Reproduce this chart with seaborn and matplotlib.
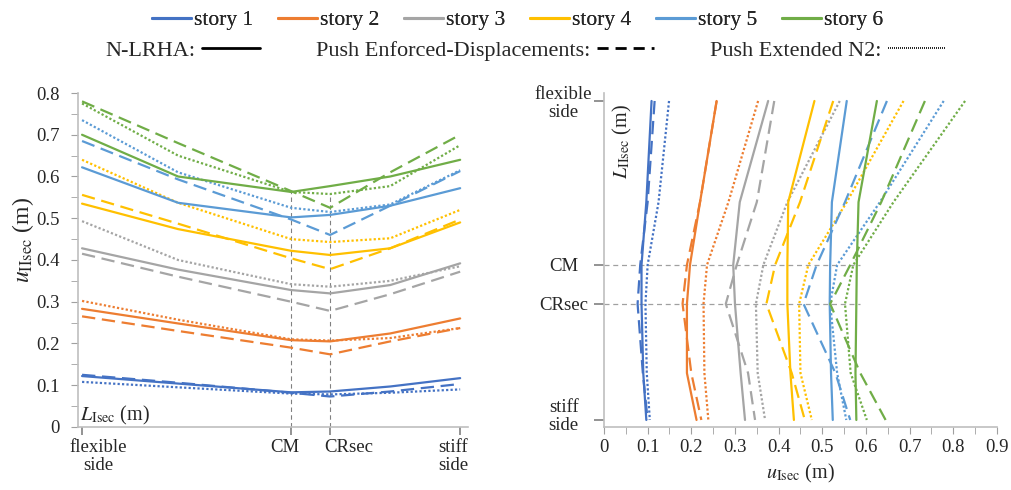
import numpy as np
import pandas as pd
import matplotlib
matplotlib.use("Agg")
import matplotlib.pyplot as plt
import matplotlib.transforms as mtransforms
import seaborn as sns
from matplotlib.lines import Line2D
from matplotlib.ticker import MultipleLocator, FuncFormatter

# ---------------------------------------------------------------- data
stories = ["story 1", "story 2", "story 3", "story 4", "story 5", "story 6"]
methods = ["N-LRHA", "Push Enforced-Displacements", "Push Extended N2"]
colors = ["#4472C4", "#ED7D31", "#A5A5A5", "#FFC000", "#5B9BD5", "#70AD47"]

# normalised positions along each section (0 = flexible side, 1 = stiff side)
pos_I = [0.0, 0.254, 0.553, 0.656, 0.815, 1.0]
pos_II = [0.0, 0.317, 0.514, 0.636, 0.853, 1.0]
tick_pos_I = [0.0, 0.553, 0.656, 1.0]
tick_pos_II = [0.0, 0.514, 0.636, 1.0]
tick_labels = ["flexible\nside", "CM", "CRsec", "stiff\nside"]

# u_IIsec (m) along section I, one row per story
uII_nlrha = [
    [0.122, 0.104, 0.083, 0.085, 0.097, 0.117],
    [0.283, 0.248, 0.208, 0.205, 0.224, 0.260],
    [0.428, 0.377, 0.328, 0.320, 0.340, 0.392],
    [0.535, 0.474, 0.422, 0.412, 0.428, 0.490],
    [0.622, 0.537, 0.502, 0.508, 0.530, 0.572],
    [0.700, 0.600, 0.563, 0.577, 0.600, 0.640],
]
uII_push_ed = [
    [0.125, 0.106, 0.082, 0.073, 0.085, 0.103],
    [0.265, 0.230, 0.190, 0.174, 0.205, 0.237],
    [0.415, 0.360, 0.300, 0.278, 0.318, 0.372],
    [0.556, 0.487, 0.404, 0.378, 0.428, 0.497],
    [0.685, 0.593, 0.497, 0.460, 0.530, 0.613],
    [0.780, 0.680, 0.565, 0.525, 0.610, 0.700],
]
uII_push_n2 = [
    [0.108, 0.095, 0.080, 0.078, 0.082, 0.090],
    [0.302, 0.257, 0.210, 0.207, 0.213, 0.237],
    [0.493, 0.400, 0.342, 0.336, 0.350, 0.385],
    [0.640, 0.537, 0.450, 0.443, 0.452, 0.520],
    [0.735, 0.610, 0.525, 0.515, 0.533, 0.615],
    [0.775, 0.650, 0.563, 0.558, 0.577, 0.675],
]

# u_Isec (m) along section II, one row per story
uI_nlrha = [
    [0.109, 0.097, 0.086, 0.086, 0.090, 0.097],
    [0.258, 0.220, 0.197, 0.190, 0.190, 0.212],
    [0.376, 0.311, 0.296, 0.300, 0.313, 0.323],
    [0.482, 0.422, 0.420, 0.420, 0.427, 0.435],
    [0.556, 0.522, 0.518, 0.517, 0.520, 0.524],
    [0.625, 0.583, 0.579, 0.578, 0.576, 0.578],
]
uI_push_ed = [
    [0.116, 0.100, 0.083, 0.077, 0.089, 0.100],
    [0.258, 0.220, 0.190, 0.180, 0.200, 0.223],
    [0.390, 0.350, 0.304, 0.279, 0.330, 0.346],
    [0.525, 0.449, 0.392, 0.372, 0.430, 0.460],
    [0.648, 0.552, 0.487, 0.457, 0.530, 0.564],
    [0.735, 0.635, 0.564, 0.518, 0.587, 0.645],
]
uI_push_n2 = [
    [0.149, 0.125, 0.100, 0.095, 0.098, 0.105],
    [0.353, 0.285, 0.236, 0.228, 0.230, 0.239],
    [0.540, 0.420, 0.365, 0.348, 0.352, 0.369],
    [0.686, 0.556, 0.468, 0.447, 0.450, 0.476],
    [0.778, 0.632, 0.534, 0.518, 0.534, 0.555],
    [0.827, 0.663, 0.571, 0.552, 0.565, 0.602],
]

# reach of the dashed guide lines at CM and CRsec
guide_I = [0.563, 0.557]
guide_II = [0.586, 0.586]


def long_table(pos, tables):
    rows = []
    for method, table in zip(methods, tables):
        for story, values in zip(stories, table):
            for p, v in zip(pos, values):
                rows.append({"pos": p, "u": v, "story": story, "method": method})
    return pd.DataFrame(rows)


df_I = long_table(pos_I, [uII_nlrha, uII_push_ed, uII_push_n2])
df_II = long_table(pos_II, [uI_nlrha, uI_push_ed, uI_push_n2])

# ---------------------------------------------------------------- style
sns.set_style("ticks")
plt.rcParams["font.family"] = ["Liberation Serif", "DejaVu Serif"]
plt.rcParams["mathtext.fontset"] = "stix"

dash_map = {methods[0]: "", methods[1]: (6, 3), methods[2]: (1, 1)}
palette = dict(zip(stories, colors))
axis_col = "#BFBFBF"
tick_col = "#A0A0A0"
fs = 13.5

fig = plt.figure(figsize=(10.11, 4.90), dpi=100)
ax1 = fig.add_axes([0.0772, 0.1286, 0.3858, 0.6816])
ax2 = fig.add_axes([0.5974, 0.1286, 0.3887, 0.6816])

sns.lineplot(data=df_I, x="pos", y="u", hue="story", style="method",
             palette=palette, dashes=dash_map, estimator=None, sort=False,
             linewidth=1.6, legend=False, ax=ax1)
sns.lineplot(data=df_II, x="u", y="pos", hue="story", style="method",
             palette=palette, dashes=dash_map, estimator=None, sort=False,
             orient="y", linewidth=1.6, legend=False, ax=ax2)

# guide lines at CM and CRsec
for p, top in zip(tick_pos_I[1:3], guide_I):
    ax1.plot([p, p], [0, top], color="#808080", lw=0.8, ls=(0, (4, 3)), zorder=0)
for p, right in zip(tick_pos_II[1:3], guide_II):
    ax2.plot([0, right], [p, p], color="#A0A0A0", lw=0.9, ls=(0, (4, 3)), zorder=0)

fmt = FuncFormatter(lambda v, _: "0" if abs(v) < 1e-9 else f"{v:.1f}")


def nudge(label, dx_px, dy_px):
    off = mtransforms.ScaledTranslation(dx_px / 100, dy_px / 100, fig.dpi_scale_trans)
    label.set_transform(label.get_transform() + off)


# left panel: section I
ax1.set_xlim(-0.0106, 1.021)
ax1.set_ylim(0, 0.8)
ax1.set_xticks(tick_pos_I)
ax1.set_xticklabels(tick_labels, fontsize=fs, linespacing=1.05)
ax1.yaxis.set_major_locator(MultipleLocator(0.1))
ax1.yaxis.set_minor_locator(MultipleLocator(0.05))
ax1.yaxis.set_major_formatter(fmt)
ax1.tick_params(axis="y", which="both", length=5, color=tick_col, labelsize=fs, pad=8)
ax1.tick_params(axis="x", length=6, width=1.2, color="#808080", pad=3)
for lab, dx in zip(ax1.get_xticklabels(), [16, -6, 19, -7]):
    nudge(lab, dx, 0)
ax1.set_xlabel("")
ax1.set_ylabel(r"$u_{\mathrm{IIsec}}$ (m)", fontsize=17)
ax1.yaxis.set_label_coords(-0.108, 0.56)
ax1.text(0.005, 0.035, r"$L_{\mathrm{Isec}}$ (m)", transform=ax1.transAxes,
         fontsize=fs + 1, ha="left", va="center")

# right panel: section II
ax2.set_xlim(0, 0.9)
ax2.set_ylim(1.022, -0.025)
ax2.set_yticks(tick_pos_II)
ax2.set_yticklabels(tick_labels, fontsize=fs, linespacing=1.05, ha="center")
ax2.xaxis.set_major_locator(MultipleLocator(0.1))
ax2.xaxis.set_minor_locator(MultipleLocator(0.05))
ax2.xaxis.set_major_formatter(fmt)
ax2.tick_params(axis="x", which="both", length=5, color=tick_col, labelsize=fs, pad=4)
ax2.tick_params(axis="y", length=7, width=1.2, color="#808080", pad=22)
nudge(ax2.get_yticklabels()[-1], 0, 6)
ax2.set_ylabel("")
ax2.set_xlabel(r"$u_{\mathrm{Isec}}$ (m)", fontsize=fs + 1, labelpad=4)
ax2.text(0.046, 0.965, r"$L_{\mathrm{IIsec}}$ (m)", transform=ax2.transAxes,
         fontsize=fs + 1, rotation=90, ha="center", va="top")

for ax in (ax1, ax2):
    sns.despine(ax=ax)
    for side in ("left", "bottom"):
        ax.spines[side].set_color(axis_col)
        ax.spines[side].set_linewidth(1.2)

# legends
story_handles = [Line2D([], [], color=c, lw=2.2) for c in colors]
leg1 = fig.legend(story_handles, stories, loc="center", bbox_to_anchor=(0.512, 0.959),
                  ncol=6, frameon=False, fontsize=15.5, handlelength=1.8,
                  handletextpad=0.15, columnspacing=1.15)
method_handles = [
    Line2D([], [], color="black", lw=2.0, ls="-"),
    Line2D([], [], color="black", lw=2.0, ls=(0, (4, 2.5))),
    Line2D([], [], color="black", lw=1.2, ls=(0, (0.6, 0.6))),
]
fig.legend(method_handles, [m + ":" for m in methods], loc="center",
           bbox_to_anchor=(0.52, 0.896), ncol=3, frameon=False, fontsize=16,
           handlelength=2.6, handletextpad=0.3, columnspacing=2.5, markerfirst=False)
fig.add_artist(leg1)

fig.savefig("out.png", dpi=100)
